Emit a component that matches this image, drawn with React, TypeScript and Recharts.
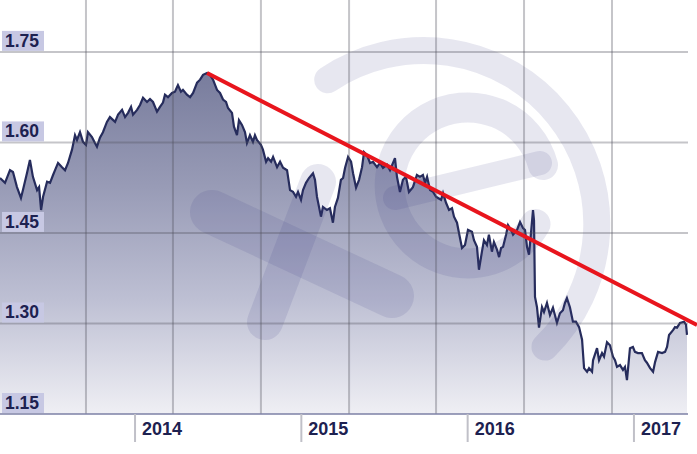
import React from 'react';
import { ComposedChart, Area, XAxis, YAxis, ReferenceLine, ReferenceArea } from 'recharts';

const years = [
  2013.188, 2013.218, 2013.248, 2013.266, 2013.290, 2013.314, 2013.326, 2013.350, 2013.368, 2013.386,
  2013.411, 2013.423, 2013.435, 2013.447, 2013.471, 2013.489, 2013.507, 2013.519, 2013.537, 2013.561,
  2013.579, 2013.597, 2013.621, 2013.639, 2013.651, 2013.669, 2013.687, 2013.705, 2013.717, 2013.741,
  2013.759, 2013.771, 2013.789, 2013.807, 2013.831, 2013.849, 2013.880, 2013.898, 2013.922, 2013.940,
  2013.958, 2013.976, 2013.988, 2014.012, 2014.030, 2014.048, 2014.072, 2014.090, 2014.108, 2014.132,
  2014.150, 2014.168, 2014.180, 2014.198, 2014.222, 2014.240, 2014.258, 2014.276, 2014.288, 2014.312,
  2014.331, 2014.349, 2014.373, 2014.391, 2014.409, 2014.433, 2014.451, 2014.469, 2014.493, 2014.511,
  2014.529, 2014.547, 2014.559, 2014.583, 2014.595, 2014.613, 2014.625, 2014.643, 2014.661, 2014.673,
  2014.691, 2014.709, 2014.721, 2014.733, 2014.757, 2014.769, 2014.788, 2014.800, 2014.818, 2014.830,
  2014.854, 2014.872, 2014.890, 2014.914, 2014.932, 2014.950, 2014.968, 2014.980, 2014.998, 2015.010,
  2015.028, 2015.046, 2015.070, 2015.082, 2015.094, 2015.118, 2015.130, 2015.154, 2015.172, 2015.190,
  2015.202, 2015.220, 2015.238, 2015.251, 2015.263, 2015.281, 2015.299, 2015.311, 2015.329, 2015.347,
  2015.365, 2015.377, 2015.395, 2015.413, 2015.431, 2015.455, 2015.473, 2015.491, 2015.515, 2015.533,
  2015.563, 2015.575, 2015.593, 2015.611, 2015.629, 2015.647, 2015.671, 2015.695, 2015.713, 2015.731,
  2015.744, 2015.756, 2015.774, 2015.792, 2015.810, 2015.822, 2015.840, 2015.852, 2015.870, 2015.888,
  2015.906, 2015.918, 2015.936, 2015.948, 2015.966, 2015.984, 2016.002, 2016.026, 2016.038, 2016.056,
  2016.068, 2016.086, 2016.098, 2016.116, 2016.128, 2016.146, 2016.158, 2016.177, 2016.189, 2016.201,
  2016.213, 2016.231, 2016.243, 2016.261, 2016.273, 2016.297, 2016.315, 2016.333, 2016.345, 2016.357,
  2016.369, 2016.381, 2016.393, 2016.399, 2016.405, 2016.417, 2016.429, 2016.447, 2016.459, 2016.477,
  2016.495, 2016.513, 2016.537, 2016.555, 2016.573, 2016.585, 2016.597, 2016.615, 2016.633, 2016.651,
  2016.670, 2016.688, 2016.700, 2016.718, 2016.730, 2016.748, 2016.754, 2016.778, 2016.790, 2016.808,
  2016.820, 2016.838, 2016.856, 2016.874, 2016.886, 2016.898, 2016.916, 2016.934, 2016.946, 2016.958,
  2016.976, 2016.994, 2017.006, 2017.024, 2017.048, 2017.066, 2017.078, 2017.097, 2017.115, 2017.127,
  2017.145, 2017.169, 2017.187, 2017.199, 2017.211, 2017.235, 2017.247, 2017.259, 2017.277, 2017.301,
  2017.313, 2017.319,
];

const rates = [
  1.541, 1.533, 1.554, 1.551, 1.526, 1.508, 1.521, 1.549, 1.571, 1.543,
  1.521, 1.526, 1.488, 1.510, 1.535, 1.533, 1.546, 1.554, 1.566, 1.559,
  1.554, 1.566, 1.588, 1.612, 1.604, 1.617, 1.601, 1.596, 1.617, 1.609,
  1.599, 1.593, 1.608, 1.617, 1.634, 1.642, 1.634, 1.646, 1.654, 1.642,
  1.649, 1.659, 1.646, 1.654, 1.662, 1.674, 1.667, 1.672, 1.667, 1.651,
  1.659, 1.666, 1.679, 1.675, 1.682, 1.684, 1.695, 1.684, 1.687, 1.679,
  1.675, 1.682, 1.699, 1.704, 1.712, 1.715, 1.712, 1.704, 1.687, 1.682,
  1.671, 1.667, 1.657, 1.649, 1.626, 1.612, 1.637, 1.629, 1.617, 1.599,
  1.612, 1.601, 1.612, 1.604, 1.596, 1.588, 1.568, 1.574, 1.568, 1.576,
  1.559, 1.568, 1.558, 1.554, 1.521, 1.518, 1.510, 1.518, 1.505, 1.521,
  1.533, 1.541, 1.549, 1.538, 1.510, 1.477, 1.493, 1.488, 1.491, 1.467,
  1.493, 1.508, 1.538, 1.541, 1.558, 1.576, 1.568, 1.549, 1.525, 1.538,
  1.559, 1.584, 1.579, 1.566, 1.568, 1.559, 1.566, 1.558, 1.563, 1.554,
  1.574, 1.543, 1.518, 1.538, 1.543, 1.518, 1.526, 1.546, 1.543, 1.546,
  1.533, 1.543, 1.521, 1.518, 1.510, 1.508, 1.505, 1.516, 1.500, 1.488,
  1.491, 1.477, 1.467, 1.450, 1.425, 1.430, 1.455, 1.452, 1.438, 1.427,
  1.389, 1.419, 1.438, 1.430, 1.447, 1.419, 1.435, 1.422, 1.410, 1.425,
  1.427, 1.447, 1.463, 1.455, 1.447, 1.455, 1.468, 1.458, 1.455, 1.427,
  1.414, 1.450, 1.488, 1.471, 1.344, 1.327, 1.293, 1.327, 1.319, 1.334,
  1.314, 1.326, 1.301, 1.317, 1.322, 1.334, 1.342, 1.327, 1.303, 1.303,
  1.294, 1.273, 1.226, 1.220, 1.226, 1.220, 1.239, 1.259, 1.239, 1.251,
  1.245, 1.269, 1.264, 1.245, 1.239, 1.228, 1.231, 1.223, 1.228, 1.206,
  1.259, 1.261, 1.253, 1.251, 1.251, 1.239, 1.235, 1.226, 1.220, 1.236,
  1.253, 1.251, 1.253, 1.261, 1.281, 1.289, 1.294, 1.293, 1.301, 1.303,
  1.298, 1.281,
];

const yearTicks = [2014, 2015, 2016, 2017];
const rateTicks = [1.15, 1.3, 1.45, 1.6, 1.75];
const gridYears = [2013.705, 2014.228, 2014.757, 2015.287, 2015.81, 2016.339, 2016.868];
const xDomain = [2013.188, 2017.325];
const yDomain = [1.15, 1.836];
const trendStart = { year: 2014.433, rate: 1.715 };
const trendEnd = { year: 2017.379, rate: 1.2975 };

const data = years.map((year, i) => ({ year, rate: rates[i] }));

const FONT = '"Liberation Sans", Arial, sans-serif';
const LABEL_COLOR = '#1d2150';
const GRID = 'rgba(78,78,92,0.33)';

function YTick(props: any) {
  const { y, payload } = props;
  const x = 0;
  return (
    <g>
      <rect x={x + 2} y={y - 21} width={42} height={20} fill="#c7c8e3" />
      <text x={x + 5} y={y - 5} fontFamily={FONT} fontWeight="bold" fontSize={17.5} fill={LABEL_COLOR} textAnchor="start">
        {Number(payload.value).toFixed(2)}
      </text>
    </g>
  );
}

function XTick(props: any) {
  const { x, y, payload } = props;
  return (
    <g>
      <line x1={x} y1={y} x2={x} y2={y + 28} stroke="#c0c0c8" strokeWidth={2} />
      <text x={x + 7} y={y + 21} fontFamily={FONT} fontWeight="bold" fontSize={18} fill={LABEL_COLOR} textAnchor="start">
        {String(payload.value)}
      </text>
    </g>
  );
}

function Watermark() {
  const c = 'rgba(60,60,130,0.12)';
  return (
    <g pointerEvents="none">
      <path d="M 327.7 79.7 A 173 173 0 0 1 545 347" fill="none" stroke={c} strokeWidth={27} strokeLinecap="round" />
      <path d="M 543 165 A 78 78 0 1 0 535.5 224" fill="none" stroke={c} strokeWidth={30} strokeLinecap="round" />
      <line x1={395} y1={198} x2={540} y2={163} stroke={c} strokeWidth={24} strokeLinecap="round" />
      <line x1={212} y1={212} x2={392} y2={296} stroke={c} strokeWidth={44} strokeLinecap="round" />
      <line x1={265} y1={322} x2={318} y2={182} stroke={c} strokeWidth={36} strokeLinecap="round" />
    </g>
  );
}

export default function App() {
  return (
    <div style={{ position: 'absolute', left: 0, top: 0, width: 697, height: 454, background: '#fff' }}>
      <ComposedChart width={697} height={454} data={data} margin={{ top: 0, right: 9, bottom: 0, left: 0 }}>
        <defs>
          <linearGradient id="fillGrad" gradientUnits="userSpaceOnUse" x1="0" y1="0" x2="0" y2="414">
            <stop offset="0" stopColor="#6e7294" />
            <stop offset="0.2" stopColor="#7b7f9f" />
            <stop offset="0.45" stopColor="#989bb6" />
            <stop offset="0.72" stopColor="#bdbfd3" />
            <stop offset="1" stopColor="#efeff4" />
          </linearGradient>
        </defs>
        <XAxis
          dataKey="year"
          type="number"
          domain={xDomain}
          allowDataOverflow
          ticks={yearTicks}
          interval={0}
          tickSize={0}
          tickMargin={0}
          tickLine={false}
          axisLine={{ stroke: '#7d81a6', strokeWidth: 1.5 }}
          tick={<XTick />}
          height={40}
        />
        <YAxis
          type="number"
          domain={yDomain}
          allowDataOverflow
          ticks={rateTicks}
          interval={0}
          mirror
          width={50}
          tickSize={0}
          tickMargin={0}
          axisLine={false}
          tickLine={false}
          tick={<YTick />}
        />
        <Area
          type="linear"
          dataKey="rate"
          stroke="#262c5c"
          strokeWidth={2.2}
          fill="url(#fillGrad)"
          fillOpacity={1}
          isAnimationActive={false}
          dot={false}
          activeDot={false}
        />
        <ReferenceArea
          x1={xDomain[0]}
          x2={xDomain[1]}
          y1={yDomain[0]}
          y2={yDomain[1]}
          ifOverflow="visible"
          shape={() => <Watermark />}
        />
        {gridYears.map((g) => (
          <ReferenceLine key={'v' + g} x={g} stroke={GRID} strokeWidth={2} />
        ))}
        {rateTicks.slice(1).map((r) => (
          <ReferenceLine key={'h' + r} y={r} stroke={GRID} strokeWidth={2} />
        ))}
        <ReferenceLine
          segment={[
            { x: trendStart.year, y: trendStart.rate },
            { x: trendEnd.year, y: trendEnd.rate },
          ]}
          ifOverflow="visible"
          stroke="#e8151d"
          strokeWidth={4}
        />
      </ComposedChart>
    </div>
  );
}
